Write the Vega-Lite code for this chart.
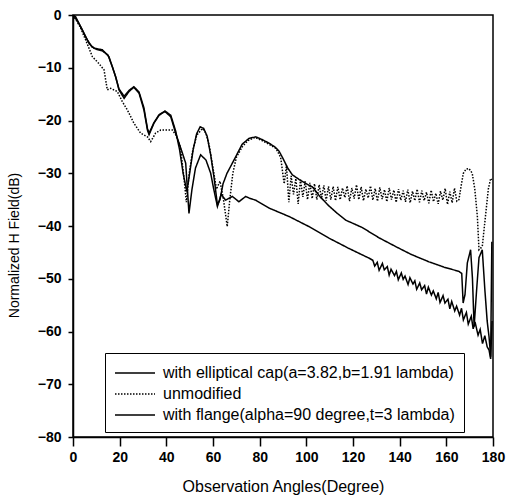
{
  "$schema": "https://vega.github.io/schema/vega-lite/v6.json",
  "width": 420,
  "height": 422,
  "autosize": {"type": "none"},
  "padding": {"left": 73, "top": 15, "right": 14, "bottom": 64},
  "background": "white",
  "config": {
    "view": {"stroke": "black", "strokeWidth": 1.5},
    "axis": {
      "grid": false,
      "domainColor": "black",
      "domainWidth": 1.5,
      "tickColor": "black",
      "tickWidth": 1.5,
      "labelFont": "Liberation Sans",
      "labelFontSize": 14,
      "labelFontWeight": "bold",
      "labelColor": "black",
      "titleFont": "Liberation Sans",
      "titleFontWeight": "normal",
      "titleColor": "black"
    },
    "legend": {
      "labelFont": "Liberation Sans",
      "labelFontSize": 16,
      "labelColor": "black",
      "labelLimit": 500
    }
  },
  "datasets": {
    "curves": [
      {"s": "with elliptical cap(a=3.82,b=1.91 lambda)", "a": 0, "v": 0},
      {"s": "with elliptical cap(a=3.82,b=1.91 lambda)", "a": 1.1, "v": -0.3},
      {"s": "with elliptical cap(a=3.82,b=1.91 lambda)", "a": 3, "v": -2},
      {"s": "with elliptical cap(a=3.82,b=1.91 lambda)", "a": 5, "v": -3.8},
      {"s": "with elliptical cap(a=3.82,b=1.91 lambda)", "a": 6.9, "v": -5.4},
      {"s": "with elliptical cap(a=3.82,b=1.91 lambda)", "a": 9, "v": -6.3},
      {"s": "with elliptical cap(a=3.82,b=1.91 lambda)", "a": 12.6, "v": -6.6},
      {"s": "with elliptical cap(a=3.82,b=1.91 lambda)", "a": 15.4, "v": -7.9},
      {"s": "with elliptical cap(a=3.82,b=1.91 lambda)", "a": 18.3, "v": -11.7},
      {"s": "with elliptical cap(a=3.82,b=1.91 lambda)", "a": 19.7, "v": -14.2},
      {"s": "with elliptical cap(a=3.82,b=1.91 lambda)", "a": 21.9, "v": -15.8},
      {"s": "with elliptical cap(a=3.82,b=1.91 lambda)", "a": 24, "v": -14.5},
      {"s": "with elliptical cap(a=3.82,b=1.91 lambda)", "a": 26.1, "v": -13.7},
      {"s": "with elliptical cap(a=3.82,b=1.91 lambda)", "a": 28.3, "v": -14.8},
      {"s": "with elliptical cap(a=3.82,b=1.91 lambda)", "a": 30.4, "v": -18},
      {"s": "with elliptical cap(a=3.82,b=1.91 lambda)", "a": 31.9, "v": -21.8},
      {"s": "with elliptical cap(a=3.82,b=1.91 lambda)", "a": 32.6, "v": -22.7},
      {"s": "with elliptical cap(a=3.82,b=1.91 lambda)", "a": 34.7, "v": -20.5},
      {"s": "with elliptical cap(a=3.82,b=1.91 lambda)", "a": 36.9, "v": -19},
      {"s": "with elliptical cap(a=3.82,b=1.91 lambda)", "a": 39.4, "v": -18.3},
      {"s": "with elliptical cap(a=3.82,b=1.91 lambda)", "a": 41.9, "v": -19.3},
      {"s": "with elliptical cap(a=3.82,b=1.91 lambda)", "a": 44, "v": -22.4},
      {"s": "with elliptical cap(a=3.82,b=1.91 lambda)", "a": 46.9, "v": -26.2},
      {"s": "with elliptical cap(a=3.82,b=1.91 lambda)", "a": 48.3, "v": -28.1},
      {"s": "with elliptical cap(a=3.82,b=1.91 lambda)", "a": 49.7, "v": -37.6},
      {"s": "with elliptical cap(a=3.82,b=1.91 lambda)", "a": 51, "v": -33},
      {"s": "with elliptical cap(a=3.82,b=1.91 lambda)", "a": 52.5, "v": -29},
      {"s": "with elliptical cap(a=3.82,b=1.91 lambda)", "a": 54.7, "v": -26.5},
      {"s": "with elliptical cap(a=3.82,b=1.91 lambda)", "a": 57, "v": -27.5},
      {"s": "with elliptical cap(a=3.82,b=1.91 lambda)", "a": 59, "v": -30},
      {"s": "with elliptical cap(a=3.82,b=1.91 lambda)", "a": 60.4, "v": -33.2},
      {"s": "with elliptical cap(a=3.82,b=1.91 lambda)", "a": 61.9, "v": -36.3},
      {"s": "with elliptical cap(a=3.82,b=1.91 lambda)", "a": 63.5, "v": -34},
      {"s": "with elliptical cap(a=3.82,b=1.91 lambda)", "a": 65.4, "v": -35.1},
      {"s": "with elliptical cap(a=3.82,b=1.91 lambda)", "a": 68.3, "v": -34.4},
      {"s": "with elliptical cap(a=3.82,b=1.91 lambda)", "a": 71.1, "v": -35.4},
      {"s": "with elliptical cap(a=3.82,b=1.91 lambda)", "a": 74, "v": -34.4},
      {"s": "with elliptical cap(a=3.82,b=1.91 lambda)", "a": 76, "v": -34.8},
      {"s": "with elliptical cap(a=3.82,b=1.91 lambda)", "a": 78.3, "v": -35.1},
      {"s": "with elliptical cap(a=3.82,b=1.91 lambda)", "a": 84, "v": -36.6},
      {"s": "with elliptical cap(a=3.82,b=1.91 lambda)", "a": 92.6, "v": -38.2},
      {"s": "with elliptical cap(a=3.82,b=1.91 lambda)", "a": 101.1, "v": -40.1},
      {"s": "with elliptical cap(a=3.82,b=1.91 lambda)", "a": 109.7, "v": -42.3},
      {"s": "with elliptical cap(a=3.82,b=1.91 lambda)", "a": 118, "v": -44.2},
      {"s": "with elliptical cap(a=3.82,b=1.91 lambda)", "a": 126.9, "v": -46.1},
      {"s": "with elliptical cap(a=3.82,b=1.91 lambda)", "a": 128.5, "v": -46.5},
      {"s": "with elliptical cap(a=3.82,b=1.91 lambda)", "a": 129.3, "v": -47.6},
      {"s": "with elliptical cap(a=3.82,b=1.91 lambda)", "a": 130.4, "v": -46.9},
      {"s": "with elliptical cap(a=3.82,b=1.91 lambda)", "a": 131.2, "v": -48.4},
      {"s": "with elliptical cap(a=3.82,b=1.91 lambda)", "a": 132.6, "v": -47.1},
      {"s": "with elliptical cap(a=3.82,b=1.91 lambda)", "a": 133.4, "v": -48.3},
      {"s": "with elliptical cap(a=3.82,b=1.91 lambda)", "a": 134.7, "v": -47.7},
      {"s": "with elliptical cap(a=3.82,b=1.91 lambda)", "a": 135.5, "v": -49.3},
      {"s": "with elliptical cap(a=3.82,b=1.91 lambda)", "a": 136.3, "v": -48.2},
      {"s": "with elliptical cap(a=3.82,b=1.91 lambda)", "a": 137.8, "v": -49.4},
      {"s": "with elliptical cap(a=3.82,b=1.91 lambda)", "a": 138.6, "v": -48.6},
      {"s": "with elliptical cap(a=3.82,b=1.91 lambda)", "a": 139.4, "v": -50.2},
      {"s": "with elliptical cap(a=3.82,b=1.91 lambda)", "a": 140.7, "v": -48.9},
      {"s": "with elliptical cap(a=3.82,b=1.91 lambda)", "a": 141.5, "v": -50.1},
      {"s": "with elliptical cap(a=3.82,b=1.91 lambda)", "a": 142.3, "v": -49.5},
      {"s": "with elliptical cap(a=3.82,b=1.91 lambda)", "a": 143.6, "v": -51.1},
      {"s": "with elliptical cap(a=3.82,b=1.91 lambda)", "a": 144.4, "v": -49.8},
      {"s": "with elliptical cap(a=3.82,b=1.91 lambda)", "a": 145.7, "v": -51},
      {"s": "with elliptical cap(a=3.82,b=1.91 lambda)", "a": 146.5, "v": -50.4},
      {"s": "with elliptical cap(a=3.82,b=1.91 lambda)", "a": 147.3, "v": -52},
      {"s": "with elliptical cap(a=3.82,b=1.91 lambda)", "a": 148.6, "v": -50.8},
      {"s": "with elliptical cap(a=3.82,b=1.91 lambda)", "a": 149.4, "v": -52.1},
      {"s": "with elliptical cap(a=3.82,b=1.91 lambda)", "a": 150.7, "v": -51.3},
      {"s": "with elliptical cap(a=3.82,b=1.91 lambda)", "a": 151.5, "v": -52.9},
      {"s": "with elliptical cap(a=3.82,b=1.91 lambda)", "a": 152.3, "v": -51.6},
      {"s": "with elliptical cap(a=3.82,b=1.91 lambda)", "a": 153.6, "v": -53.1},
      {"s": "with elliptical cap(a=3.82,b=1.91 lambda)", "a": 154.4, "v": -52.3},
      {"s": "with elliptical cap(a=3.82,b=1.91 lambda)", "a": 155.7, "v": -53.8},
      {"s": "with elliptical cap(a=3.82,b=1.91 lambda)", "a": 156.5, "v": -52.6},
      {"s": "with elliptical cap(a=3.82,b=1.91 lambda)", "a": 157.3, "v": -54.5},
      {"s": "with elliptical cap(a=3.82,b=1.91 lambda)", "a": 158.6, "v": -53.2},
      {"s": "with elliptical cap(a=3.82,b=1.91 lambda)", "a": 159.4, "v": -54.6},
      {"s": "with elliptical cap(a=3.82,b=1.91 lambda)", "a": 160.7, "v": -53.9},
      {"s": "with elliptical cap(a=3.82,b=1.91 lambda)", "a": 161.5, "v": -55.7},
      {"s": "with elliptical cap(a=3.82,b=1.91 lambda)", "a": 162.3, "v": -54.3},
      {"s": "with elliptical cap(a=3.82,b=1.91 lambda)", "a": 163.6, "v": -56.1},
      {"s": "with elliptical cap(a=3.82,b=1.91 lambda)", "a": 164.4, "v": -55.2},
      {"s": "with elliptical cap(a=3.82,b=1.91 lambda)", "a": 165.7, "v": -56.9},
      {"s": "with elliptical cap(a=3.82,b=1.91 lambda)", "a": 166.5, "v": -55.6},
      {"s": "with elliptical cap(a=3.82,b=1.91 lambda)", "a": 167.3, "v": -57.8},
      {"s": "with elliptical cap(a=3.82,b=1.91 lambda)", "a": 168.6, "v": -56.4},
      {"s": "with elliptical cap(a=3.82,b=1.91 lambda)", "a": 169.4, "v": -58.6},
      {"s": "with elliptical cap(a=3.82,b=1.91 lambda)", "a": 170.7, "v": -57.1},
      {"s": "with elliptical cap(a=3.82,b=1.91 lambda)", "a": 171.5, "v": -59.5},
      {"s": "with elliptical cap(a=3.82,b=1.91 lambda)", "a": 172.3, "v": -58.2},
      {"s": "with elliptical cap(a=3.82,b=1.91 lambda)", "a": 173.6, "v": -60.7},
      {"s": "with elliptical cap(a=3.82,b=1.91 lambda)", "a": 174.5, "v": -59.6},
      {"s": "with elliptical cap(a=3.82,b=1.91 lambda)", "a": 175.5, "v": -62.3},
      {"s": "with elliptical cap(a=3.82,b=1.91 lambda)", "a": 176.5, "v": -60.8},
      {"s": "with elliptical cap(a=3.82,b=1.91 lambda)", "a": 177.5, "v": -62.9},
      {"s": "with elliptical cap(a=3.82,b=1.91 lambda)", "a": 178.3, "v": -63.5},
      {"s": "with elliptical cap(a=3.82,b=1.91 lambda)", "a": 179, "v": -65.2},
      {"s": "with elliptical cap(a=3.82,b=1.91 lambda)", "a": 179.6, "v": -58},

      {"s": "unmodified", "a": 0, "v": 0},
      {"s": "unmodified", "a": 3, "v": -2.2},
      {"s": "unmodified", "a": 5.4, "v": -4.7},
      {"s": "unmodified", "a": 8.3, "v": -7.9},
      {"s": "unmodified", "a": 11.1, "v": -9.2},
      {"s": "unmodified", "a": 13.3, "v": -10.4},
      {"s": "unmodified", "a": 14.7, "v": -14.2},
      {"s": "unmodified", "a": 16.1, "v": -13.9},
      {"s": "unmodified", "a": 19, "v": -14.5},
      {"s": "unmodified", "a": 21.1, "v": -16.4},
      {"s": "unmodified", "a": 23.3, "v": -18},
      {"s": "unmodified", "a": 26.1, "v": -20.5},
      {"s": "unmodified", "a": 29, "v": -22.4},
      {"s": "unmodified", "a": 31.9, "v": -23.1},
      {"s": "unmodified", "a": 33.3, "v": -24},
      {"s": "unmodified", "a": 35.4, "v": -22.4},
      {"s": "unmodified", "a": 37.6, "v": -21.8},
      {"s": "unmodified", "a": 42.6, "v": -21.8},
      {"s": "unmodified", "a": 44, "v": -22.7},
      {"s": "unmodified", "a": 46, "v": -25},
      {"s": "unmodified", "a": 47.6, "v": -31},
      {"s": "unmodified", "a": 48.6, "v": -35.5},
      {"s": "unmodified", "a": 49.8, "v": -30},
      {"s": "unmodified", "a": 51.2, "v": -26},
      {"s": "unmodified", "a": 53, "v": -22.8},
      {"s": "unmodified", "a": 55.5, "v": -21.5},
      {"s": "unmodified", "a": 57, "v": -22.4},
      {"s": "unmodified", "a": 58.5, "v": -25},
      {"s": "unmodified", "a": 60, "v": -29},
      {"s": "unmodified", "a": 61.5, "v": -33},
      {"s": "unmodified", "a": 63, "v": -31.5},
      {"s": "unmodified", "a": 64.5, "v": -35},
      {"s": "unmodified", "a": 66.1, "v": -40.1},
      {"s": "unmodified", "a": 67.2, "v": -35},
      {"s": "unmodified", "a": 68.5, "v": -30},
      {"s": "unmodified", "a": 70, "v": -27},
      {"s": "unmodified", "a": 72.5, "v": -25},
      {"s": "unmodified", "a": 75, "v": -23.8},
      {"s": "unmodified", "a": 78, "v": -23.2},
      {"s": "unmodified", "a": 81, "v": -23.8},
      {"s": "unmodified", "a": 84, "v": -24.5},
      {"s": "unmodified", "a": 87, "v": -25.3},
      {"s": "unmodified", "a": 89, "v": -27},
      {"s": "unmodified", "a": 90.5, "v": -32},
      {"s": "unmodified", "a": 91.5, "v": -28.5},
      {"s": "unmodified", "a": 92.5, "v": -35.5},
      {"s": "unmodified", "a": 93.5, "v": -30.5},
      {"s": "unmodified", "a": 94.5, "v": -34},
      {"s": "unmodified", "a": 95.5, "v": -31},
      {"s": "unmodified", "a": 96.5, "v": -35.8},
      {"s": "unmodified", "a": 97.5, "v": -31.2},
      {"s": "unmodified", "a": 98.5, "v": -34.5},
      {"s": "unmodified", "a": 99.5, "v": -31.5},
      {"s": "unmodified", "a": 100.5, "v": -35},
      {"s": "unmodified", "a": 101.5, "v": -31.8},
      {"s": "unmodified", "a": 102.5, "v": -34.8},
      {"s": "unmodified", "a": 103.5, "v": -32},
      {"s": "unmodified", "a": 104.5, "v": -35},
      {"s": "unmodified", "a": 105.5, "v": -32.2},
      {"s": "unmodified", "a": 106.5, "v": -34.8},
      {"s": "unmodified", "a": 107.5, "v": -32.3},
      {"s": "unmodified", "a": 108.5, "v": -35.2},
      {"s": "unmodified", "a": 109.5, "v": -32.5},
      {"s": "unmodified", "a": 110.5, "v": -35},
      {"s": "unmodified", "a": 111.5, "v": -32.5},
      {"s": "unmodified", "a": 112.5, "v": -35.2},
      {"s": "unmodified", "a": 113.5, "v": -32.6},
      {"s": "unmodified", "a": 114.5, "v": -35},
      {"s": "unmodified", "a": 115.5, "v": -32.8},
      {"s": "unmodified", "a": 116.5, "v": -34.6},
      {"s": "unmodified", "a": 117.5, "v": -32.4},
      {"s": "unmodified", "a": 118.5, "v": -35.3},
      {"s": "unmodified", "a": 119.5, "v": -32.8},
      {"s": "unmodified", "a": 120.5, "v": -34.8},
      {"s": "unmodified", "a": 121.5, "v": -32.2},
      {"s": "unmodified", "a": 122.5, "v": -35},
      {"s": "unmodified", "a": 123.5, "v": -32.6},
      {"s": "unmodified", "a": 124.5, "v": -35.2},
      {"s": "unmodified", "a": 125.5, "v": -33},
      {"s": "unmodified", "a": 126.5, "v": -34.7},
      {"s": "unmodified", "a": 127.5, "v": -32.4},
      {"s": "unmodified", "a": 128.5, "v": -35.1},
      {"s": "unmodified", "a": 129.5, "v": -32.9},
      {"s": "unmodified", "a": 130.5, "v": -35.3},
      {"s": "unmodified", "a": 131.5, "v": -32.7},
      {"s": "unmodified", "a": 132.5, "v": -34.9},
      {"s": "unmodified", "a": 133.5, "v": -33.1},
      {"s": "unmodified", "a": 134.5, "v": -35.4},
      {"s": "unmodified", "a": 135.5, "v": -32.8},
      {"s": "unmodified", "a": 136.5, "v": -35},
      {"s": "unmodified", "a": 137.5, "v": -33.2},
      {"s": "unmodified", "a": 138.5, "v": -35.5},
      {"s": "unmodified", "a": 139.5, "v": -33},
      {"s": "unmodified", "a": 140.5, "v": -35.1},
      {"s": "unmodified", "a": 141.5, "v": -33.3},
      {"s": "unmodified", "a": 142.5, "v": -35.4},
      {"s": "unmodified", "a": 143.5, "v": -33.1},
      {"s": "unmodified", "a": 144.5, "v": -35.6},
      {"s": "unmodified", "a": 145.5, "v": -33.4},
      {"s": "unmodified", "a": 146.5, "v": -35.2},
      {"s": "unmodified", "a": 147.5, "v": -33},
      {"s": "unmodified", "a": 148.5, "v": -35.5},
      {"s": "unmodified", "a": 149.5, "v": -33.3},
      {"s": "unmodified", "a": 150.5, "v": -35.2},
      {"s": "unmodified", "a": 151.5, "v": -33.6},
      {"s": "unmodified", "a": 152.5, "v": -35.7},
      {"s": "unmodified", "a": 153.5, "v": -33.2},
      {"s": "unmodified", "a": 154.5, "v": -35.4},
      {"s": "unmodified", "a": 155.5, "v": -33.8},
      {"s": "unmodified", "a": 156.5, "v": -35.8},
      {"s": "unmodified", "a": 157.5, "v": -33.4},
      {"s": "unmodified", "a": 158.5, "v": -35.1},
      {"s": "unmodified", "a": 159.5, "v": -32.9},
      {"s": "unmodified", "a": 160.5, "v": -35.9},
      {"s": "unmodified", "a": 161.5, "v": -33.5},
      {"s": "unmodified", "a": 162.5, "v": -35.6},
      {"s": "unmodified", "a": 163.5, "v": -32.8},
      {"s": "unmodified", "a": 164.5, "v": -35.3},
      {"s": "unmodified", "a": 165.4, "v": -35},
      {"s": "unmodified", "a": 166.3, "v": -32.5},
      {"s": "unmodified", "a": 167.3, "v": -30},
      {"s": "unmodified", "a": 168.5, "v": -29.2},
      {"s": "unmodified", "a": 169.7, "v": -29.1},
      {"s": "unmodified", "a": 171.1, "v": -30},
      {"s": "unmodified", "a": 172.2, "v": -33},
      {"s": "unmodified", "a": 173.3, "v": -38.2},
      {"s": "unmodified", "a": 174, "v": -44.5},
      {"s": "unmodified", "a": 175.4, "v": -43.9},
      {"s": "unmodified", "a": 176.9, "v": -37.6},
      {"s": "unmodified", "a": 178, "v": -33},
      {"s": "unmodified", "a": 179, "v": -31},
      {"s": "unmodified", "a": 179.6, "v": -31.2},

      {"s": "with flange(alpha=90 degree,t=3 lambda)", "a": 0, "v": 0},
      {"s": "with flange(alpha=90 degree,t=3 lambda)", "a": 2, "v": -1.2},
      {"s": "with flange(alpha=90 degree,t=3 lambda)", "a": 4, "v": -2.8},
      {"s": "with flange(alpha=90 degree,t=3 lambda)", "a": 6, "v": -4.6},
      {"s": "with flange(alpha=90 degree,t=3 lambda)", "a": 8, "v": -6},
      {"s": "with flange(alpha=90 degree,t=3 lambda)", "a": 10, "v": -6.5},
      {"s": "with flange(alpha=90 degree,t=3 lambda)", "a": 12.6, "v": -6.8},
      {"s": "with flange(alpha=90 degree,t=3 lambda)", "a": 15, "v": -7.6},
      {"s": "with flange(alpha=90 degree,t=3 lambda)", "a": 17, "v": -10},
      {"s": "with flange(alpha=90 degree,t=3 lambda)", "a": 18.3, "v": -11.8},
      {"s": "with flange(alpha=90 degree,t=3 lambda)", "a": 19.7, "v": -14},
      {"s": "with flange(alpha=90 degree,t=3 lambda)", "a": 21.9, "v": -15.4},
      {"s": "with flange(alpha=90 degree,t=3 lambda)", "a": 24, "v": -14.3},
      {"s": "with flange(alpha=90 degree,t=3 lambda)", "a": 26.1, "v": -13.6},
      {"s": "with flange(alpha=90 degree,t=3 lambda)", "a": 28.3, "v": -14.6},
      {"s": "with flange(alpha=90 degree,t=3 lambda)", "a": 30.4, "v": -17.6},
      {"s": "with flange(alpha=90 degree,t=3 lambda)", "a": 31.9, "v": -21.5},
      {"s": "with flange(alpha=90 degree,t=3 lambda)", "a": 32.6, "v": -22.4},
      {"s": "with flange(alpha=90 degree,t=3 lambda)", "a": 34.7, "v": -20.4},
      {"s": "with flange(alpha=90 degree,t=3 lambda)", "a": 36.9, "v": -18.9},
      {"s": "with flange(alpha=90 degree,t=3 lambda)", "a": 39.4, "v": -18.2},
      {"s": "with flange(alpha=90 degree,t=3 lambda)", "a": 41.9, "v": -19},
      {"s": "with flange(alpha=90 degree,t=3 lambda)", "a": 44, "v": -22},
      {"s": "with flange(alpha=90 degree,t=3 lambda)", "a": 45.7, "v": -25.6},
      {"s": "with flange(alpha=90 degree,t=3 lambda)", "a": 47.2, "v": -30},
      {"s": "with flange(alpha=90 degree,t=3 lambda)", "a": 48.8, "v": -33.5},
      {"s": "with flange(alpha=90 degree,t=3 lambda)", "a": 50, "v": -30},
      {"s": "with flange(alpha=90 degree,t=3 lambda)", "a": 51.5, "v": -25.5},
      {"s": "with flange(alpha=90 degree,t=3 lambda)", "a": 53, "v": -22.5},
      {"s": "with flange(alpha=90 degree,t=3 lambda)", "a": 54.5, "v": -21.2},
      {"s": "with flange(alpha=90 degree,t=3 lambda)", "a": 56, "v": -21.5},
      {"s": "with flange(alpha=90 degree,t=3 lambda)", "a": 57.5, "v": -23},
      {"s": "with flange(alpha=90 degree,t=3 lambda)", "a": 59, "v": -26.5},
      {"s": "with flange(alpha=90 degree,t=3 lambda)", "a": 60.5, "v": -31},
      {"s": "with flange(alpha=90 degree,t=3 lambda)", "a": 61.9, "v": -36},
      {"s": "with flange(alpha=90 degree,t=3 lambda)", "a": 63, "v": -35},
      {"s": "with flange(alpha=90 degree,t=3 lambda)", "a": 64.3, "v": -32},
      {"s": "with flange(alpha=90 degree,t=3 lambda)", "a": 66, "v": -30},
      {"s": "with flange(alpha=90 degree,t=3 lambda)", "a": 67.8, "v": -28.5},
      {"s": "with flange(alpha=90 degree,t=3 lambda)", "a": 69.7, "v": -26.9},
      {"s": "with flange(alpha=90 degree,t=3 lambda)", "a": 72.5, "v": -24.5},
      {"s": "with flange(alpha=90 degree,t=3 lambda)", "a": 75.4, "v": -23.4},
      {"s": "with flange(alpha=90 degree,t=3 lambda)", "a": 78.3, "v": -23.1},
      {"s": "with flange(alpha=90 degree,t=3 lambda)", "a": 81, "v": -23.6},
      {"s": "with flange(alpha=90 degree,t=3 lambda)", "a": 84, "v": -24.3},
      {"s": "with flange(alpha=90 degree,t=3 lambda)", "a": 86.5, "v": -25},
      {"s": "with flange(alpha=90 degree,t=3 lambda)", "a": 88.3, "v": -25.8},
      {"s": "with flange(alpha=90 degree,t=3 lambda)", "a": 90, "v": -27.2},
      {"s": "with flange(alpha=90 degree,t=3 lambda)", "a": 92, "v": -29},
      {"s": "with flange(alpha=90 degree,t=3 lambda)", "a": 94, "v": -30.3},
      {"s": "with flange(alpha=90 degree,t=3 lambda)", "a": 97, "v": -31.2},
      {"s": "with flange(alpha=90 degree,t=3 lambda)", "a": 100, "v": -32},
      {"s": "with flange(alpha=90 degree,t=3 lambda)", "a": 102.6, "v": -32.6},
      {"s": "with flange(alpha=90 degree,t=3 lambda)", "a": 106, "v": -34.5},
      {"s": "with flange(alpha=90 degree,t=3 lambda)", "a": 109.7, "v": -36.2},
      {"s": "with flange(alpha=90 degree,t=3 lambda)", "a": 113, "v": -37.5},
      {"s": "with flange(alpha=90 degree,t=3 lambda)", "a": 116.9, "v": -38.9},
      {"s": "with flange(alpha=90 degree,t=3 lambda)", "a": 120, "v": -39.5},
      {"s": "with flange(alpha=90 degree,t=3 lambda)", "a": 124, "v": -40.3},
      {"s": "with flange(alpha=90 degree,t=3 lambda)", "a": 131, "v": -42.2},
      {"s": "with flange(alpha=90 degree,t=3 lambda)", "a": 138.3, "v": -43.9},
      {"s": "with flange(alpha=90 degree,t=3 lambda)", "a": 145, "v": -45.4},
      {"s": "with flange(alpha=90 degree,t=3 lambda)", "a": 152.6, "v": -46.8},
      {"s": "with flange(alpha=90 degree,t=3 lambda)", "a": 159, "v": -47.8},
      {"s": "with flange(alpha=90 degree,t=3 lambda)", "a": 165.4, "v": -48.6},
      {"s": "with flange(alpha=90 degree,t=3 lambda)", "a": 166.6, "v": -49},
      {"s": "with flange(alpha=90 degree,t=3 lambda)", "a": 167.2, "v": -54.6},
      {"s": "with flange(alpha=90 degree,t=3 lambda)", "a": 168, "v": -53},
      {"s": "with flange(alpha=90 degree,t=3 lambda)", "a": 169, "v": -47},
      {"s": "with flange(alpha=90 degree,t=3 lambda)", "a": 170.4, "v": -44.5},
      {"s": "with flange(alpha=90 degree,t=3 lambda)", "a": 171.2, "v": -50},
      {"s": "with flange(alpha=90 degree,t=3 lambda)", "a": 171.9, "v": -59.1},
      {"s": "with flange(alpha=90 degree,t=3 lambda)", "a": 173, "v": -52},
      {"s": "with flange(alpha=90 degree,t=3 lambda)", "a": 174, "v": -46},
      {"s": "with flange(alpha=90 degree,t=3 lambda)", "a": 175.4, "v": -44.5},
      {"s": "with flange(alpha=90 degree,t=3 lambda)", "a": 176.5, "v": -52},
      {"s": "with flange(alpha=90 degree,t=3 lambda)", "a": 177.5, "v": -58},
      {"s": "with flange(alpha=90 degree,t=3 lambda)", "a": 178.3, "v": -61},
      {"s": "with flange(alpha=90 degree,t=3 lambda)", "a": 179, "v": -64.8},
      {"s": "with flange(alpha=90 degree,t=3 lambda)", "a": 179.5, "v": -43}
    ]
  },
  "data": {"name": "curves"},
  "mark": {"type": "line", "strokeWidth": 1.5, "clip": true},
  "encoding": {
    "x": {
      "field": "a",
      "type": "quantitative",
      "scale": {"domain": [0, 180], "nice": false},
      "axis": {
        "title": "Observation Angles(Degree)",
        "titleFontSize": 16,
        "values": [0, 20, 40, 60, 80, 100, 120, 140, 160, 180],
        "tickSize": 9,
        "labelPadding": 4,
        "titlePadding": 14,
        "labelFlush": false
      }
    },
    "y": {
      "field": "v",
      "type": "quantitative",
      "scale": {"domain": [-80, 0], "nice": false},
      "axis": {
        "title": "Normalized H Field(dB)",
        "titleFontSize": 14,
        "values": [-80, -70, -60, -50, -40, -30, -20, -10, 0],
        "tickSize": 5,
        "labelPadding": 7,
        "titlePadding": 16,
        "titleY": 230,
        "labelFlush": false
      }
    },
    "color": {
      "field": "s",
      "type": "nominal",
      "scale": {
        "domain": ["with elliptical cap(a=3.82,b=1.91 lambda)", "unmodified", "with flange(alpha=90 degree,t=3 lambda)"],
        "range": ["black", "black", "black"]
      },
      "legend": {
        "title": null,
        "orient": "none",
        "legendX": 32,
        "legendY": 338,
        "strokeColor": "black",
        "fillColor": "white",
        "padding": 9,
        "symbolType": "M-1,0H3",
        "symbolSize": 400,
        "symbolStrokeWidth": 1.5,
        "labelOffset": 27,
        "rowPadding": 2
      }
    },
    "strokeDash": {
      "field": "s",
      "type": "nominal",
      "scale": {
        "domain": ["with elliptical cap(a=3.82,b=1.91 lambda)", "unmodified", "with flange(alpha=90 degree,t=3 lambda)"],
        "range": [[1, 0], [1.5, 1.5], [1, 0]]
      },
      "legend": {
        "title": null,
        "orient": "none",
        "legendX": 32,
        "legendY": 338,
        "strokeColor": "black",
        "fillColor": "white",
        "padding": 9,
        "symbolType": "M-1,0H3",
        "symbolSize": 400,
        "symbolStrokeWidth": 1.5,
        "labelOffset": 27,
        "rowPadding": 2
      }
    }
  }
}
